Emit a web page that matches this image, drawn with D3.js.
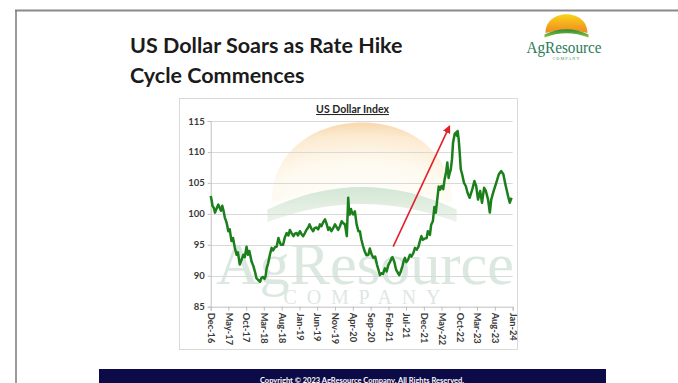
<!DOCTYPE html>
<html>
<head>
<meta charset="utf-8">
<script src="https://cdn.jsdelivr.net/npm/d3@7"></script>
<style>
  html, body { margin: 0; padding: 0; background: #fff; overflow: hidden; }
  svg { display: block; }
</style>
</head>
<body>
<svg id="slide" width="678" height="383"></svg>
<script>
// ---- Data -------------------------------------------------------------
const slideTitle = ["US Dollar Soars as Rate Hike", "Cycle Commences"];
const chartTitle = "US Dollar Index";
const footerText = "Copyright \u00A9 2023 AgResource Company.  All Rights Reserved.";

const dates = [
  "2016-12-01","2016-12-09","2016-12-16","2016-12-27","2017-01-07","2017-01-19","2017-02-04","2017-02-16",
  "2017-02-27","2017-03-10","2017-03-22","2017-04-01","2017-04-16","2017-05-01","2017-05-13","2017-05-28",
  "2017-06-10","2017-06-25","2017-07-10","2017-07-22","2017-08-07","2017-08-19","2017-09-07","2017-09-19",
  "2017-10-04","2017-10-16","2017-10-28","2017-11-16","2017-12-01","2017-12-16","2017-12-28","2018-01-13",
  "2018-01-28","2018-02-10","2018-02-25","2018-03-07","2018-03-16","2018-03-25","2018-04-07","2018-04-22",
  "2018-05-07","2018-05-19","2018-06-04","2018-06-19","2018-07-04","2018-07-13","2018-07-25","2018-08-13",
  "2018-08-28","2018-09-13","2018-09-28","2018-10-10","2018-10-25","2018-11-10","2018-11-22","2018-12-07",
  "2018-12-19","2019-01-04","2019-01-16","2019-02-01","2019-02-16","2019-03-01","2019-03-16","2019-03-28",
  "2019-04-13","2019-04-28","2019-05-10","2019-05-25","2019-06-10","2019-06-25","2019-07-07","2019-07-22",
  "2019-08-07","2019-08-19","2019-09-04","2019-09-16","2019-10-01","2019-10-16","2019-11-01","2019-11-13",
  "2019-11-28","2019-12-13","2019-12-28","2020-01-10","2020-01-25","2020-02-10","2020-02-22","2020-03-01",
  "2020-03-07","2020-03-16","2020-03-22","2020-04-04","2020-04-19","2020-05-04","2020-05-19","2020-06-01",
  "2020-06-13","2020-06-28","2020-07-13","2020-07-28","2020-08-13","2020-08-25","2020-09-10","2020-09-25",
  "2020-10-10","2020-10-25","2020-11-07","2020-11-19","2020-12-01","2020-12-16","2021-01-01","2021-01-16",
  "2021-02-01","2021-02-16","2021-03-01","2021-03-07","2021-03-22","2021-04-07","2021-04-25","2021-05-04",
  "2021-05-16","2021-06-01","2021-06-10","2021-06-22","2021-07-04","2021-07-19","2021-08-04","2021-08-16",
  "2021-09-01","2021-09-16","2021-10-01","2021-10-16","2021-10-28","2021-11-10","2021-11-22","2021-12-07",
  "2021-12-25","2022-01-04","2022-01-22","2022-02-01","2022-02-16","2022-03-01","2022-03-13","2022-03-28",
  "2022-04-07","2022-04-19","2022-05-01","2022-05-16","2022-05-28","2022-06-10","2022-06-20","2022-07-01",
  "2022-07-10","2022-07-19","2022-07-30","2022-08-08","2022-08-22","2022-09-07","2022-09-11","2022-09-16",
  "2022-09-25","2022-10-04","2022-10-13","2022-10-25","2022-11-10","2022-11-25","2022-12-10","2022-12-28",
  "2023-01-19","2023-02-07","2023-02-22","2023-03-10","2023-03-28","2023-04-13","2023-05-01","2023-05-16",
  "2023-06-04","2023-06-19","2023-07-01","2023-07-22","2023-08-13","2023-09-04","2023-09-25","2023-10-13",
  "2023-10-30","2023-11-10","2023-11-22","2023-12-07","2023-12-22"
];

const dollarIndex = [
  102.9,102.2,101.3,101.0,100.2,100.8,101.5,101.0,
  100.5,101.3,100.4, 99.4, 98.6, 97.2, 97.5, 95.6,
   96.1, 94.6, 93.4, 93.8, 91.8, 92.4, 93.4, 93.0,
   94.7, 93.4, 94.0, 92.3, 91.6, 90.6, 89.6, 89.3,
   89.0, 89.7, 89.8, 89.5, 89.9, 91.2, 92.0, 93.4,
   94.5, 94.1, 94.6, 94.7, 96.1, 95.6, 95.0, 95.0,
   96.2, 96.9, 96.5, 97.4, 96.9, 96.4, 96.8, 96.9,
   96.5, 97.2, 96.8, 96.4, 96.9, 97.4, 97.8, 98.3,
   97.6, 97.2, 97.7, 97.8, 97.5, 98.3, 98.0, 98.6,
   99.1, 98.5, 97.4, 97.8, 97.2, 97.7, 98.3, 97.9,
   97.4, 98.0, 98.8, 98.5, 98.3, 96.4,102.6,100.2,
   99.9,100.8,100.4, 99.9,100.4, 98.3, 97.2, 97.2,
   95.9, 94.8, 93.9, 93.3, 93.4, 94.4, 93.4, 92.9,
   93.1, 91.8, 91.0, 90.1, 90.4, 90.3, 91.2, 90.7,
   91.8, 92.3, 92.9, 93.0, 92.3, 91.0, 90.4, 90.1,
   90.6, 91.6, 92.3, 92.9, 92.2, 92.6, 93.4, 93.1,
   93.6, 94.5, 94.2, 94.7, 95.6, 96.4, 95.8, 96.0,
   96.1, 97.2, 96.6, 98.2, 98.8,101.1,100.2,102.7,
  104.4,103.9,104.5,104.0,105.6,106.8,108.3,105.8,
  106.6,107.1,108.8,111.5,112.9,113.2,112.6,113.4,
  112.1,109.9,107.2,106.4,105.0,104.5,103.4,102.6,
  103.9,105.3,104.5,102.3,103.7,101.8,104.2,103.7,
  102.3,100.2,102.3,103.7,105.0,106.4,106.9,106.4,
  104.8,103.9,102.9,101.8,102.6
];

const xDomain = ["2016-12-01", "2024-01-01"];
const xTickDates = [
  "2016-12-01","2017-05-01","2017-10-01","2018-03-01","2018-08-01","2019-01-01",
  "2019-06-01","2019-11-01","2020-04-01","2020-09-01","2021-02-01","2021-07-01",
  "2021-12-01","2022-05-01","2022-10-01","2023-03-01","2023-08-01","2024-01-01"
];
const yDomain = [85, 115];
const yTicks = [85, 90, 95, 100, 105, 110, 115];

// hike-cycle arrow: [date, index level]
const arrowFrom = ["2021-03-13", 94.7];
const arrowTo   = ["2022-07-07", 114.1];

// ---- Setup ------------------------------------------------------------
const parse = d3.timeParse("%Y-%m-%d");
const series = dates.map((d, i) => ({ date: parse(d), value: dollarIndex[i] }));

const svg = d3.select("#slide");
const defs = svg.append("defs");

function vGrad(id, stops) {
  const g = defs.append("linearGradient").attr("id", id)
    .attr("x1", 0).attr("y1", 0).attr("x2", 0).attr("y2", 1);
  stops.forEach(([o, c]) => g.append("stop").attr("offset", o).attr("stop-color", c));
}
vGrad("sun", [["0%", "#f9d31c"], ["100%", "#ef8a1f"]]);
vGrad("hill", [["0%", "#2f8a35"], ["100%", "#8cc43f"]]);
vGrad("hillPale", [["0%", "#d3e6d6"], ["100%", "#eef5ea"]]);

// pale sun for the background emblem: white core, warm rim
const sunPale = defs.append("radialGradient").attr("id", "sunPale")
  .attr("cx", 0.5).attr("cy", 1).attr("r", 1).attr("fx", 0.5).attr("fy", 1.1);
sunPale.append("stop").attr("offset", "0%").attr("stop-color", "#ffffff");
sunPale.append("stop").attr("offset", "55%").attr("stop-color", "#fefaf0");
sunPale.append("stop").attr("offset", "85%").attr("stop-color", "#fcebd2");
sunPale.append("stop").attr("offset", "100%").attr("stop-color", "#f8d8ae");

defs.append("marker").attr("id", "arrowHead")
  .attr("viewBox", "0 0 10 10").attr("refX", 8).attr("refY", 5)
  .attr("markerWidth", 5).attr("markerHeight", 5)
  .attr("markerUnits", "strokeWidth").attr("orient", "auto")
  .append("path").attr("d", "M0,0 L10,5 L0,10 Z").attr("fill", "#e3212b");

// sun-over-hill emblem, drawn around a local origin
function emblem(g, sunFill, hillFill) {
  g.append("path").attr("d", "M-21,0 C-21,-25 21,-25 21,0 Q0,-6 -21,0 Z").attr("fill", sunFill);
  g.append("path").attr("d", "M-22,1.5 Q0,-9 22,1.5 L22,4.5 Q0,-4 -22,4.5 Z").attr("fill", hillFill);
}

// ---- Slide frame --------------------------------------------------------
svg.append("line").attr("x1", 15).attr("x2", 678).attr("y1", 10.5).attr("y2", 10.5)
  .attr("stroke", "#8a8a8a").attr("stroke-width", 2);
svg.append("line").attr("x1", 16).attr("x2", 16).attr("y1", 10).attr("y2", 383)
  .attr("stroke", "#7a7a7a").attr("stroke-width", 1.5);

// ---- Slide title ------------------------------------------------------
svg.append("g").selectAll("text").data(slideTitle).join("text")
  .attr("x", 130).attr("y", (d, i) => 53 + i * 29.5)
  .attr("font-family", "Lato, 'Open Sans', sans-serif")
  .attr("font-weight", 700).attr("font-size", 21.5)
  .attr("fill", "#1b1b1b").text(d => d);

// ---- Company logo -----------------------------------------------------
const logo = svg.append("g");
emblem(logo.append("g").attr("transform", "translate(566.5,33)"), "url(#sun)", "url(#hill)");
logo.append("text").attr("x", 564).attr("y", 52.5).attr("text-anchor", "middle")
  .attr("font-family", "'Liberation Serif', 'DejaVu Serif', serif").attr("font-size", 16)
  .attr("textLength", 75).attr("lengthAdjust", "spacingAndGlyphs")
  .attr("fill", "#2b7a57").text("AgResource");
logo.append("text").attr("x", 566).attr("y", 59.5).attr("text-anchor", "middle")
  .attr("font-family", "'Liberation Serif', serif").attr("font-size", 4.2)
  .attr("textLength", 27).attr("lengthAdjust", "spacing")
  .attr("fill", "#4d8a6c").text("COMPANY");

// ---- Chart panel ------------------------------------------------------
svg.append("rect").attr("x", 179.5).attr("y", 98.5).attr("width", 338).attr("height", 251)
  .attr("fill", "#fff").attr("stroke", "#d9d9d9").attr("stroke-width", 1);

const x = d3.scaleTime().domain(xDomain.map(parse)).range([210.7, 512.7]);
const y = d3.scaleLinear().domain(yDomain).range([306.7, 121]);

// faded emblem and company name behind the plot
const wm = svg.append("g");
emblem(wm.append("g").attr("transform", "translate(362,203) scale(4.3)"), "url(#sunPale)", "url(#hillPale)");
wm.append("text").attr("x", 365).attr("y", 284).attr("text-anchor", "middle")
  .attr("font-family", "'Liberation Serif', 'DejaVu Serif', serif").attr("font-size", 60)
  .attr("textLength", 298).attr("lengthAdjust", "spacingAndGlyphs")
  .attr("fill", "#dbe8e0").text("AgResource");
wm.append("text").attr("x", 362).attr("y", 304).attr("text-anchor", "middle")
  .attr("font-family", "'Liberation Serif', 'DejaVu Serif', serif").attr("font-size", 20)
  .attr("textLength", 157).attr("lengthAdjust", "spacing")
  .attr("fill", "#e0e6e3").text("COMPANY");

// horizontal gridlines
svg.append("g").selectAll("line").data(yTicks.filter(v => v > yDomain[0])).join("line")
  .attr("x1", x.range()[0]).attr("x2", x.range()[1])
  .attr("y1", d => Math.round(y(d)) + 0.5).attr("y2", d => Math.round(y(d)) + 0.5)
  .attr("stroke", "#d9d9d9").attr("stroke-width", 1);

const axisFont = "Lato, 'Open Sans', sans-serif";

// y axis
const yAxis = svg.append("g").attr("transform", `translate(${x.range()[0]},0)`)
  .call(d3.axisLeft(y).tickValues(yTicks).tickSize(3).tickPadding(3).tickFormat(d3.format("d")));
yAxis.selectAll("path, line").attr("stroke", "#bfbfbf");
yAxis.selectAll("text").attr("font-family", axisFont).attr("font-weight", 700)
  .attr("font-size", 9.5).attr("fill", "#3a3a3a");

// x axis with vertical month labels
const xAxis = svg.append("g").attr("transform", `translate(0,${y.range()[0]})`)
  .call(d3.axisBottom(x).tickValues(xTickDates.map(parse)).tickSize(4)
    .tickFormat(d3.timeFormat("%b-%y")));
xAxis.selectAll("path, line").attr("stroke", "#bfbfbf");
xAxis.selectAll("text")
  .attr("font-family", axisFont).attr("font-weight", 700).attr("font-size", 9.3).attr("fill", "#3a3a3a")
  .attr("text-anchor", "start").attr("transform", "rotate(90)")
  .attr("x", 6).attr("y", 0).attr("dy", "0.35em");

// index line
svg.append("path").datum(series)
  .attr("fill", "none").attr("stroke", "#1b7f1b").attr("stroke-width", 2.5)
  .attr("stroke-linejoin", "round")
  .attr("d", d3.line().x(d => x(d.date)).y(d => y(d.value)));

// rate hike arrow
svg.append("line")
  .attr("x1", x(parse(arrowFrom[0]))).attr("y1", y(arrowFrom[1]))
  .attr("x2", x(parse(arrowTo[0]))).attr("y2", y(arrowTo[1]))
  .attr("stroke", "#e3212b").attr("stroke-width", 1.6)
  .attr("marker-end", "url(#arrowHead)");

// chart title, underlined
svg.append("text").attr("x", 352.5).attr("y", 113)
  .attr("text-anchor", "middle").attr("font-family", axisFont).attr("font-weight", 700)
  .attr("font-size", 10.5).attr("fill", "#262626")
  .attr("text-decoration", "underline").text(chartTitle);

// ---- Footer band ------------------------------------------------------
svg.append("rect").attr("x", 99).attr("y", 369).attr("width", 507).attr("height", 20).attr("fill", "#0c0b47");
svg.append("text").attr("x", 362).attr("y", 383).attr("text-anchor", "middle")
  .attr("font-family", axisFont).attr("font-weight", 700).attr("font-size", 7.5)
  .attr("fill", "#ffffff").text(footerText);
</script>
</body>
</html>
